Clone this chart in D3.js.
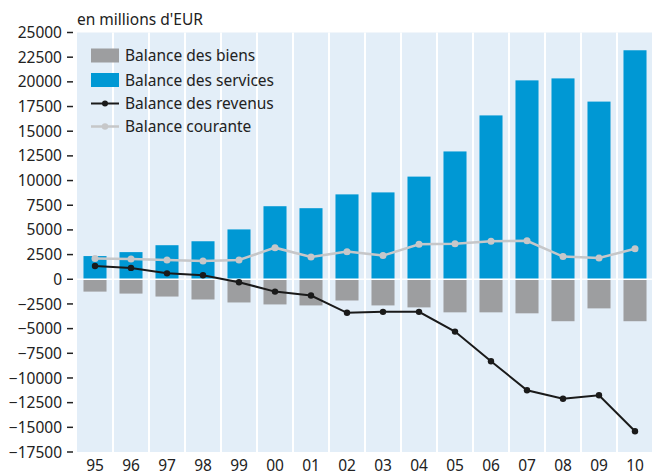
<!DOCTYPE html>
<html><head><meta charset="utf-8">
<script src="https://cdn.jsdelivr.net/npm/d3@7"></script>
<style>body{margin:0;background:#fff}svg{display:block}text{font-family:"Noto Sans",sans-serif;fill:#222}</style>
</head><body><svg id="c" width="652" height="476"></svg>
<script>
const years = ["95","96","97","98","99","00","01","02","03","04","05","06","07","08","09","10"];
const goods = [-1250,-1450,-1750,-2050,-2350,-2550,-2650,-2150,-2650,-2850,-3350,-3350,-3450,-4250,-2950,-4250];
const services = [2350,2750,3450,3850,5050,7400,7200,8600,8800,10400,12950,16600,20150,20350,18000,23200];
const income = [1350,1150,600,400,-300,-1250,-1650,-3400,-3300,-3300,-5300,-8300,-11250,-12100,-11750,-15400];
const current = [2100,2050,1950,1850,1950,3200,2250,2800,2400,3550,3600,3850,3900,2300,2150,3100];
const yTicks = [25000,22500,20000,17500,15000,12500,10000,7500,5000,2500,0,-2500,-5000,-7500,-10000,-12500,-15000,-17500];
const legendLabels = ["Balance des biens","Balance des services","Balance des revenus","Balance courante"];
const unitLabel = "en millions d'EUR";

const svg = d3.select("#c");
const L = 77, R = 653, T = 32.5, B = 452;
const x = d3.scaleBand().domain(years).range([L, R]).paddingInner(0.36).paddingOuter(0.18);
const xb = d3.scaleBand().domain(years).range([L, R]);
const y = d3.scaleLinear().domain([-17500, 25000]).range([B, T]);

svg.append("rect").attr("x", L).attr("y", T).attr("width", R - L).attr("height", B - T).attr("fill", "#e3eef8");
svg.selectAll(".sep").data(years.slice(1)).enter().append("rect")
  .attr("x", d => xb(d) - 1).attr("y", T).attr("width", 2).attr("height", B - T).attr("fill", "#fff");

// bars
svg.selectAll(".g").data(years).enter().append("rect")
  .attr("x", d => x(d)).attr("width", x.bandwidth())
  .attr("y", y(0)).attr("height", (d, i) => y(goods[i]) - y(0)).attr("fill", "#9d9ea0");
svg.selectAll(".s").data(years).enter().append("rect")
  .attr("x", d => x(d)).attr("width", x.bandwidth())
  .attr("y", (d, i) => y(services[i])).attr("height", (d, i) => y(0) - y(services[i])).attr("fill", "#0098d4");

// zero line
svg.append("line").attr("x1", L).attr("x2", R).attr("y1", y(0)).attr("y2", y(0)).attr("stroke", "#fff").attr("stroke-width", 1.5);

const cx = d => x(d) + x.bandwidth() / 2;
function drawLine(vals, color, w, r) {
  const line = d3.line().x((d, i) => cx(years[i])).y(d => y(d));
  svg.append("path").datum(vals).attr("d", line).attr("fill", "none").attr("stroke", color).attr("stroke-width", w);
  svg.append("g").selectAll("circle").data(vals).enter().append("circle")
    .attr("cx", (d, i) => cx(years[i])).attr("cy", d => y(d)).attr("r", r).attr("fill", color);
}
drawLine(current, "#c6c7c9", 2.5, 3.5);
drawLine(income, "#1a1a1a", 2, 3.2);

// y axis
const ya = svg.append("g");
yTicks.forEach(t => {
  ya.append("line").attr("x1", 67).attr("x2", 73).attr("y1", y(t)).attr("y2", y(t)).attr("stroke", "#222").attr("stroke-width", 1.5);
  ya.append("text").attr("x", 62).attr("y", y(t)).attr("dy", "0.36em").attr("text-anchor", "end")
    .attr("font-size", 15.5).text(d3.format("d")(t));
});
// x labels
svg.selectAll(".xl").data(years).enter().append("text")
  .attr("x", d => cx(d)).attr("y", 471).attr("text-anchor", "middle").attr("font-size", 15.5).text(d => d);

svg.append("text").attr("x", 77).attr("y", 25).attr("font-size", 15.5).text(unitLabel);

// legend
const lg = svg.append("g");
const rows = [55.5, 80, 103.5, 126.5];
lg.append("rect").attr("x", 91).attr("y", rows[0] - 7).attr("width", 28).attr("height", 14).attr("fill", "#9d9ea0");
lg.append("rect").attr("x", 91).attr("y", rows[1] - 7).attr("width", 28).attr("height", 14).attr("fill", "#0098d4");
lg.append("line").attr("x1", 91).attr("x2", 119).attr("y1", rows[2]).attr("y2", rows[2]).attr("stroke", "#1a1a1a").attr("stroke-width", 2);
lg.append("circle").attr("cx", 105).attr("cy", rows[2]).attr("r", 3).attr("fill", "#1a1a1a");
lg.append("line").attr("x1", 91).attr("x2", 119).attr("y1", rows[3]).attr("y2", rows[3]).attr("stroke", "#c6c7c9").attr("stroke-width", 2.5);
lg.append("circle").attr("cx", 105).attr("cy", rows[3]).attr("r", 3.2).attr("fill", "#c6c7c9");
legendLabels.forEach((l, i) => {
  lg.append("text").attr("x", 125).attr("y", rows[i]).attr("dy", "0.36em").attr("font-size", 15.5).text(l);
});
</script></body></html>
